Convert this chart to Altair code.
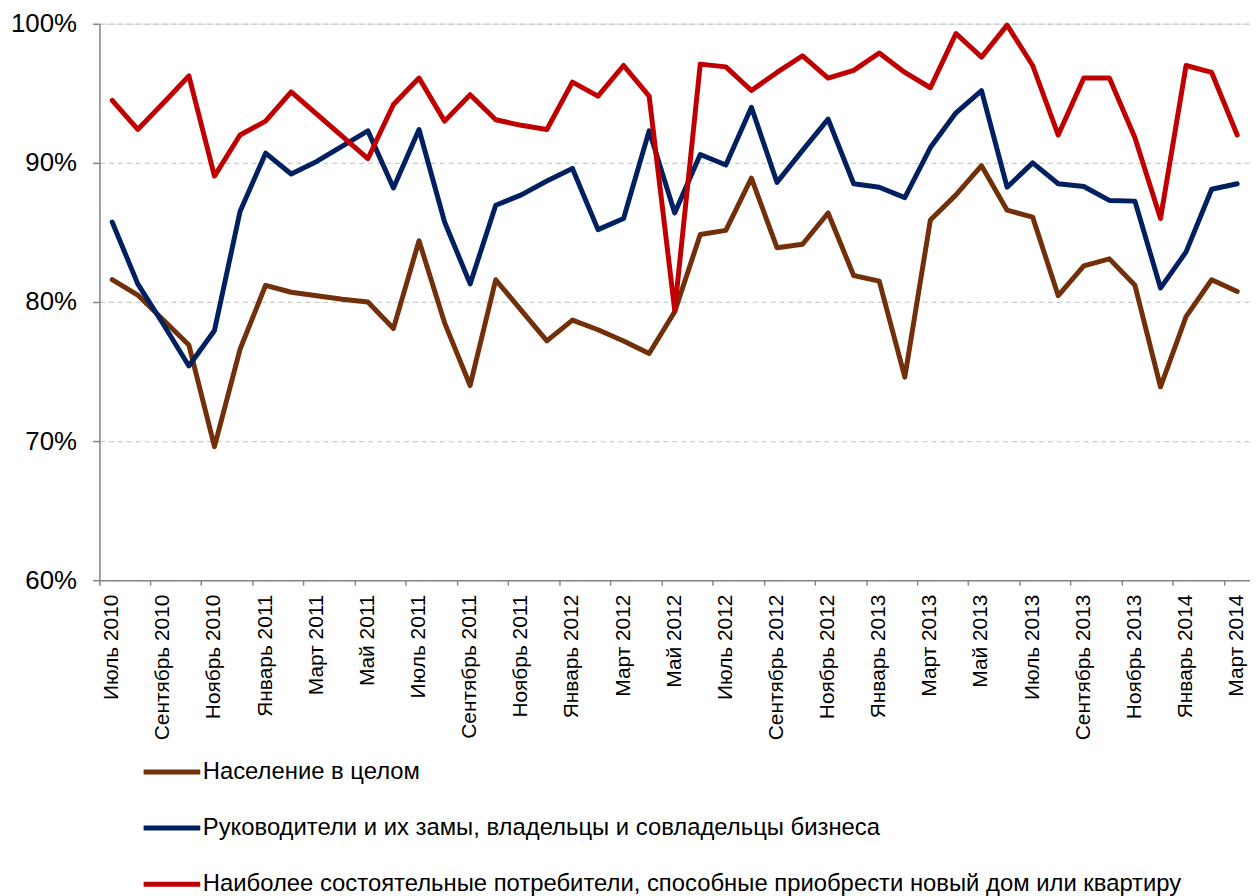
import altair as alt
import pandas as pd

months = [
    "Июль 2010", "Август 2010", "Сентябрь 2010", "Октябрь 2010", "Ноябрь 2010", "Декабрь 2010",
    "Январь 2011", "Февраль 2011", "Март 2011", "Апрель 2011", "Май 2011", "Июнь 2011",
    "Июль 2011", "Август 2011", "Сентябрь 2011", "Октябрь 2011", "Ноябрь 2011", "Декабрь 2011",
    "Январь 2012", "Февраль 2012", "Март 2012", "Апрель 2012", "Май 2012", "Июнь 2012",
    "Июль 2012", "Август 2012", "Сентябрь 2012", "Октябрь 2012", "Ноябрь 2012", "Декабрь 2012",
    "Январь 2013", "Февраль 2013", "Март 2013", "Апрель 2013", "Май 2013", "Июнь 2013",
    "Июль 2013", "Август 2013", "Сентябрь 2013", "Октябрь 2013", "Ноябрь 2013", "Декабрь 2013",
    "Январь 2014", "Февраль 2014", "Март 2014",
]

series_names = [
    "Население в целом",
    "Руководители и их замы, владельцы и совладельцы бизнеса",
    "Наиболее состоятельные потребители, способные приобрести новый дом или квартиру",
]

population = [
    81.6, 80.5, 78.7, 76.9, 69.6, 76.6, 81.2, 80.7, 80.45, 80.2, 80.0, 78.1,
    84.4, 78.5, 74.0, 81.6, 79.4, 77.2, 78.7, 78.0, 77.2, 76.3, 79.3, 84.85,
    85.15, 88.9, 83.9, 84.15, 86.4, 81.9, 81.5, 74.6, 85.9, 87.7, 89.8, 86.6,
    86.1, 80.45, 82.6, 83.1, 81.2, 73.9, 78.95, 81.6, 80.75,
]
managers = [
    85.75, 81.3, 78.4, 75.4, 77.95, 86.5, 90.7, 89.2, 90.1, 91.2, 92.3, 88.2,
    92.4, 85.75, 81.3, 86.95, 87.7, 88.7, 89.6, 85.2, 86.0, 92.3, 86.4, 90.6,
    89.85, 94.0, 88.6, 90.9, 93.15, 88.5, 88.25, 87.5, 91.1, 93.6, 95.2, 88.25,
    90.0, 88.5, 88.3, 87.3, 87.25, 81.0, 83.6, 88.1, 88.5,
]
wealthy = [
    94.5, 92.4, 94.3, 96.25, 89.05, 92.0, 93.0, 95.1, 93.5, 91.9, 90.3, 94.2,
    96.1, 93.0, 94.9, 93.1, 92.7, 92.4, 95.8, 94.8, 97.0, 94.8, 79.4, 97.1,
    96.9, 95.2, 96.5, 97.7, 96.1, 96.65, 97.9, 96.5, 95.4, 99.3, 97.6, 99.9,
    97.0, 92.0, 96.1, 96.1, 91.8, 86.0, 97.0, 96.5, 92.0,
]
colors = ["#71300A", "#002060", "#C00000"]
y_ticks = [60, 70, 80, 90, 100]

rows = []
for name, vals in zip(series_names, [population, managers, wealthy]):
    for i, (m, v) in enumerate(zip(months, vals)):
        rows.append({"Месяц": m, "Серия": name, "Доля": v, "i": i})
df = pd.DataFrame(rows)

FONT = "Liberation Sans"
AXIS_GRAY = "#868686"

chart = (
    alt.Chart(df)
    .mark_line(strokeWidth=5, strokeJoin="round", strokeCap="round")
    .encode(
        x=alt.X(
            "Месяц:N",
            sort=months,
            scale=alt.Scale(type="band", paddingInner=0, paddingOuter=0),
            axis=alt.Axis(
                values=months[::2],
                title=None,
                labelAngle=-90,
                bandPosition=0,
                labelFontSize=21,
                labelColor="#000000",
                labelPadding=9,
                tickSize=5,
                tickWidth=1.5,
                tickColor=AXIS_GRAY,
                domainColor=AXIS_GRAY,
                domainWidth=1.5,
                grid=False,
                labelFont=FONT,
            ),
        ),
        y=alt.Y(
            "Доля:Q",
            scale=alt.Scale(domain=[60, 100], nice=False, zero=False),
            axis=alt.Axis(
                values=y_ticks,
                labelExpr="datum.value + '%'",
                title=None,
                labelFontSize=26,
                labelColor="#000000",
                labelPadding=16,
                tickSize=7,
                tickWidth=1.5,
                tickColor=AXIS_GRAY,
                domainColor=AXIS_GRAY,
                domainWidth=1.5,
                grid=True,
                gridColor="#cccccc",
                gridDash=[5, 4],
                gridWidth=1.3,
                labelFont=FONT,
            ),
        ),
        color=alt.Color(
            "Серия:N",
            sort=series_names,
            scale=alt.Scale(domain=series_names, range=colors),
            legend=alt.Legend(
                orient="none",
                legendX=42,
                legendY=722,
                direction="vertical",
                title=None,
                labelFontSize=24,
                labelFont=FONT,
                labelColor="#000000",
                symbolType="stroke",
                symbolSize=3249,
                symbolStrokeWidth=5,
                labelLimit=1300,
                rowPadding=13.5,
                labelOffset=0,
                padding=0,
            ),
        ),
        order=alt.Order("i:Q"),
    )
    .properties(
        width=1158,
        height=560,
        padding={"left": 2, "top": 0, "right": 0, "bottom": 0},
    )
    .configure_view(stroke=None)
    .configure(font=FONT)
)

chart.save("out.html", embed_options={"renderer": "svg", "actions": False})
